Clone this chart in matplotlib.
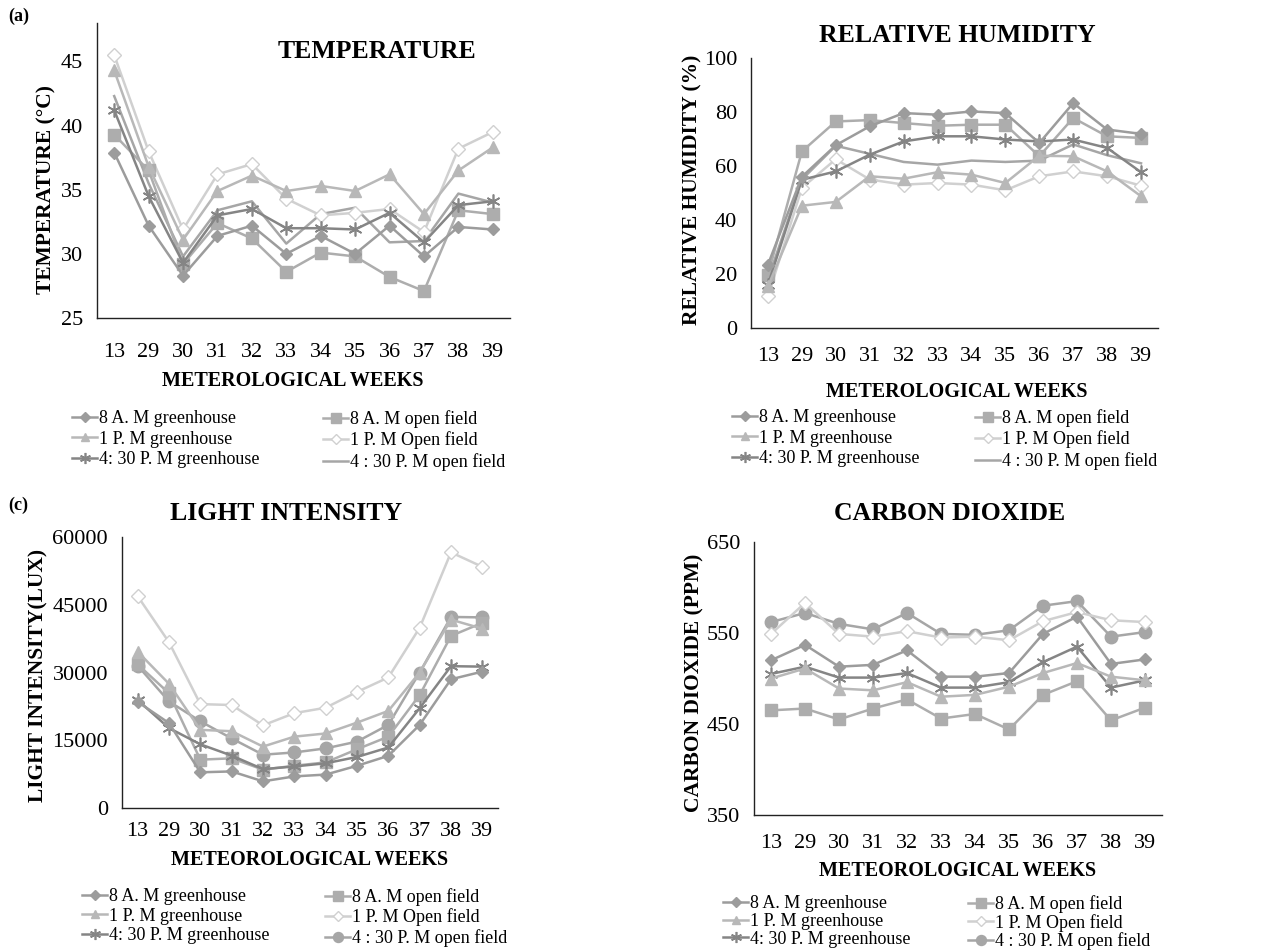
import matplotlib
matplotlib.use("Agg")
import matplotlib.pyplot as plt
import numpy as np

plt.rcParams['font.family'] = ['Liberation Serif', 'DejaVu Serif']

weeks = ['13', '29', '30', '31', '32', '33', '34', '35', '36', '37', '38', '39']

# temperature (deg C)
temp_gh8 = [37.9, 32.2, 28.3, 31.4, 32.2, 30.0, 31.4, 30.0, 32.2, 29.8, 32.1, 31.9]
temp_of8 = [39.3, 36.5, 29.2, 32.4, 31.2, 28.6, 30.1, 29.8, 28.2, 27.1, 33.4, 33.1]
temp_gh1 = [44.3, 36.8, 31.1, 34.9, 36.1, 34.9, 35.3, 34.9, 36.2, 33.1, 36.5, 38.3]
temp_of1 = [45.5, 38.0, 31.9, 36.2, 37.0, 34.3, 33.0, 33.2, 33.5, 31.7, 38.2, 39.5]
temp_gh430 = [41.2, 34.5, 29.3, 33.0, 33.5, 32.0, 32.0, 31.9, 33.2, 30.9, 33.8, 34.1]
temp_of430 = [42.3, 35.5, 29.8, 33.4, 34.1, 30.8, 33.1, 33.6, 30.9, 31.0, 34.7, 34.0]

# relative humidity (%)
rh_gh8 = [23.5, 56.0, 67.7, 74.7, 79.6, 79.0, 80.2, 79.6, 68.5, 83.3, 73.5, 71.9]
rh_of8 = [19.8, 65.4, 76.5, 77.0, 75.9, 74.9, 75.3, 75.3, 63.6, 77.8, 71.0, 70.4]
rh_gh1 = [15.4, 45.3, 46.7, 56.2, 55.3, 57.7, 56.8, 53.7, 63.8, 63.6, 58.0, 48.8]
rh_of1 = [11.7, 51.9, 62.5, 55.0, 53.1, 53.7, 53.1, 51.0, 56.2, 58.0, 56.2, 52.7]
rh_gh430 = [16.0, 54.9, 58.0, 64.2, 69.1, 71.0, 71.0, 69.8, 69.1, 69.8, 66.7, 57.7]
rh_of430 = [18.0, 55.0, 67.5, 64.5, 61.5, 60.5, 62.0, 61.5, 62.0, 68.0, 64.0, 61.0]

# light intensity (lux)
li_gh8 = [23500, 18800, 7900, 8100, 5900, 7000, 7400, 9350, 11550, 18400, 28500, 30200]
li_of8 = [31800, 25400, 10700, 11000, 8500, 9350, 10100, 13000, 15800, 25000, 38100, 41000]
li_gh1 = [34600, 27500, 17300, 17000, 13600, 15800, 16500, 18900, 21500, 30000, 41700, 39700]
li_of1 = [46900, 36700, 23000, 22800, 18300, 21000, 22200, 25700, 28900, 39900, 56600, 53400]
li_gh430 = [23900, 17700, 14100, 11600, 8600, 9200, 9900, 11300, 13400, 22100, 31400, 31300]
li_of430 = [31500, 23600, 19200, 15400, 11800, 12300, 13200, 14700, 18400, 30000, 42300, 42200]

# carbon dioxide (ppm)
co2_gh8 = [520, 537, 513, 515, 531, 502, 502, 506, 549, 568, 516, 521]
co2_of8 = [465, 467, 455, 467, 477, 456, 461, 444, 482, 497, 454, 468]
co2_gh1 = [500, 511, 489, 487, 496, 480, 482, 491, 506, 517, 502, 498]
co2_of1 = [549, 583, 549, 546, 552, 545, 546, 542, 563, 573, 564, 562]
co2_gh430 = [505, 513, 501, 501, 506, 490, 490, 496, 518, 535, 490, 498]
co2_of430 = [562, 572, 560, 554, 572, 549, 548, 553, 580, 585, 546, 551]

labels = ['8 A. M greenhouse', '1 P. M greenhouse', '4: 30 P. M greenhouse',
          '8 A. M open field', '1 P. M Open field', '4 : 30 P. M open field']

# style per series: colour, marker, marker size, face
STAR = (6, 2, 0)
styles = [
    ('#9c9c9c', 'D', 6, None),
    ('#b8b8b8', '^', 8, None),
    ('#858585', STAR, 10, None),
    ('#adadad', 's', 8.5, None),
    ('#d0d0d0', 'D', 7, 'white'),
    ('#a6a6a6', None, 9, None),
]

W, H = 1286, 951
fig = plt.figure(figsize=(W / 100, H / 100), dpi=100)


def px_axes(l, r, b, t):
    return fig.add_axes([l / W, 1 - b / H, (r - l) / W, (b - t) / H])


def draw(ax, box, series, circle_last, ylim, yticks, title, ylabel, xlabel,
         xpad, leg):
    l, r, b, t = box
    x = np.arange(len(weeks))
    handles = []
    for i, ys in enumerate(series):
        c, m, ms, face = styles[i]
        if i == 5 and circle_last:
            m = 'o'
        mew = 1.0 if m in ('D', 's', '^', 'o') else 1.2
        h, = ax.plot(x, ys, color=c, lw=1.8, marker=m, ms=ms,
                     mfc=face if face else c, mec=c, mew=mew,
                     zorder=3 + (5 - i) * 0.1)
        handles.append(h)
    ax.set_xlim(-0.5, len(weeks) - 0.5)
    ax.set_ylim(*ylim)
    ax.set_yticks(yticks)
    ax.set_xticks(x)
    ax.set_xticklabels(weeks)
    for s in ('top', 'right'):
        ax.spines[s].set_visible(False)
    for s in ('left', 'bottom'):
        ax.spines[s].set_color('#222222')
        ax.spines[s].set_linewidth(1.0)
    ax.tick_params(axis='y', length=0, pad=10, labelsize=16)
    ax.tick_params(axis='x', length=0, pad=xpad, labelsize=16)
    ax.set_ylabel(ylabel[0], fontsize=15.5, fontweight='bold', va='center')
    ax.yaxis.set_label_coords((ylabel[1] - l) / (r - l), (b - ylabel[2]) / (b - t))
    fig.text(title[1] / W, 1 - title[2] / H, title[0], fontsize=18.5,
             fontweight='bold', ha='center', va='center')
    fig.text(xlabel[1] / W, 1 - xlabel[2] / H, xlabel[0], fontsize=14.5,
             fontweight='bold', ha='center', va='center')
    x1, x2, ytop, lsp = leg
    for k, xx in enumerate((x1, x2)):
        lg = fig.legend(handles[3 * k:3 * k + 3], labels[3 * k:3 * k + 3],
                        loc='upper left', bbox_to_anchor=(xx / W, 1 - ytop / H),
                        frameon=False, fontsize=13, handlelength=1.4,
                        handletextpad=0.1, labelspacing=lsp, borderpad=0,
                        borderaxespad=0)
        for lh in lg.legend_handles:
            lh.set_markersize(lh.get_markersize() * 0.8)
    return ax


box1 = (97, 510, 318, 23)
draw(px_axes(*box1), box1,
     [temp_gh8, temp_gh1, temp_gh430, temp_of8, temp_of1, temp_of430], False,
     (25, 48), [25, 30, 35, 40, 45], ('TEMPERATURE', 377, 52),
     ('TEMPERATURE (°C)', 46, 190), ('METEROLOGICAL WEEKS', 293, 381), 18,
     (72, 323, 410, 0.2))

box2 = (751, 1158, 328, 58)
draw(px_axes(*box2), box2,
     [rh_gh8, rh_gh1, rh_gh430, rh_of8, rh_of1, rh_of430], False,
     (0, 100), [0, 20, 40, 60, 80, 100], ('RELATIVE HUMIDITY', 957, 35),
     ('RELATIVE HUMIDITY (%)', 692, 190), ('METEROLOGICAL WEEKS', 957, 392), 14,
     (732, 975, 409, 0.2))

box3 = (122, 498, 808, 537)
draw(px_axes(*box3), box3,
     [li_gh8, li_gh1, li_gh430, li_of8, li_of1, li_of430], True,
     (0, 60000), [0, 15000, 30000, 45000, 60000], ('LIGHT INTENSITY', 286, 513),
     ('LIGHT INTENSITY(LUX)', 38, 675), ('METEOROLOGICAL WEEKS', 310, 860), 10,
     (82, 325, 888, 0.15))

box4 = (754, 1162, 815, 542)
draw(px_axes(*box4), box4,
     [co2_gh8, co2_gh1, co2_gh430, co2_of8, co2_of1, co2_of430], True,
     (350, 650), [350, 450, 550, 650], ('CARBON DIOXIDE', 950, 513),
     ('CARBON DIOXIDE (PPM)', 694, 683), ('METEOROLOGICAL WEEKS', 958, 871), 14,
     (723, 968, 895, 0.05))

fig.text(8 / W, 1 - 16 / H, '(a)', fontsize=13, fontweight='bold', va='center')
fig.text(8 / W, 1 - 505 / H, '(c)', fontsize=13, fontweight='bold', va='center')

fig.savefig('out.png', dpi=100, facecolor='white')
